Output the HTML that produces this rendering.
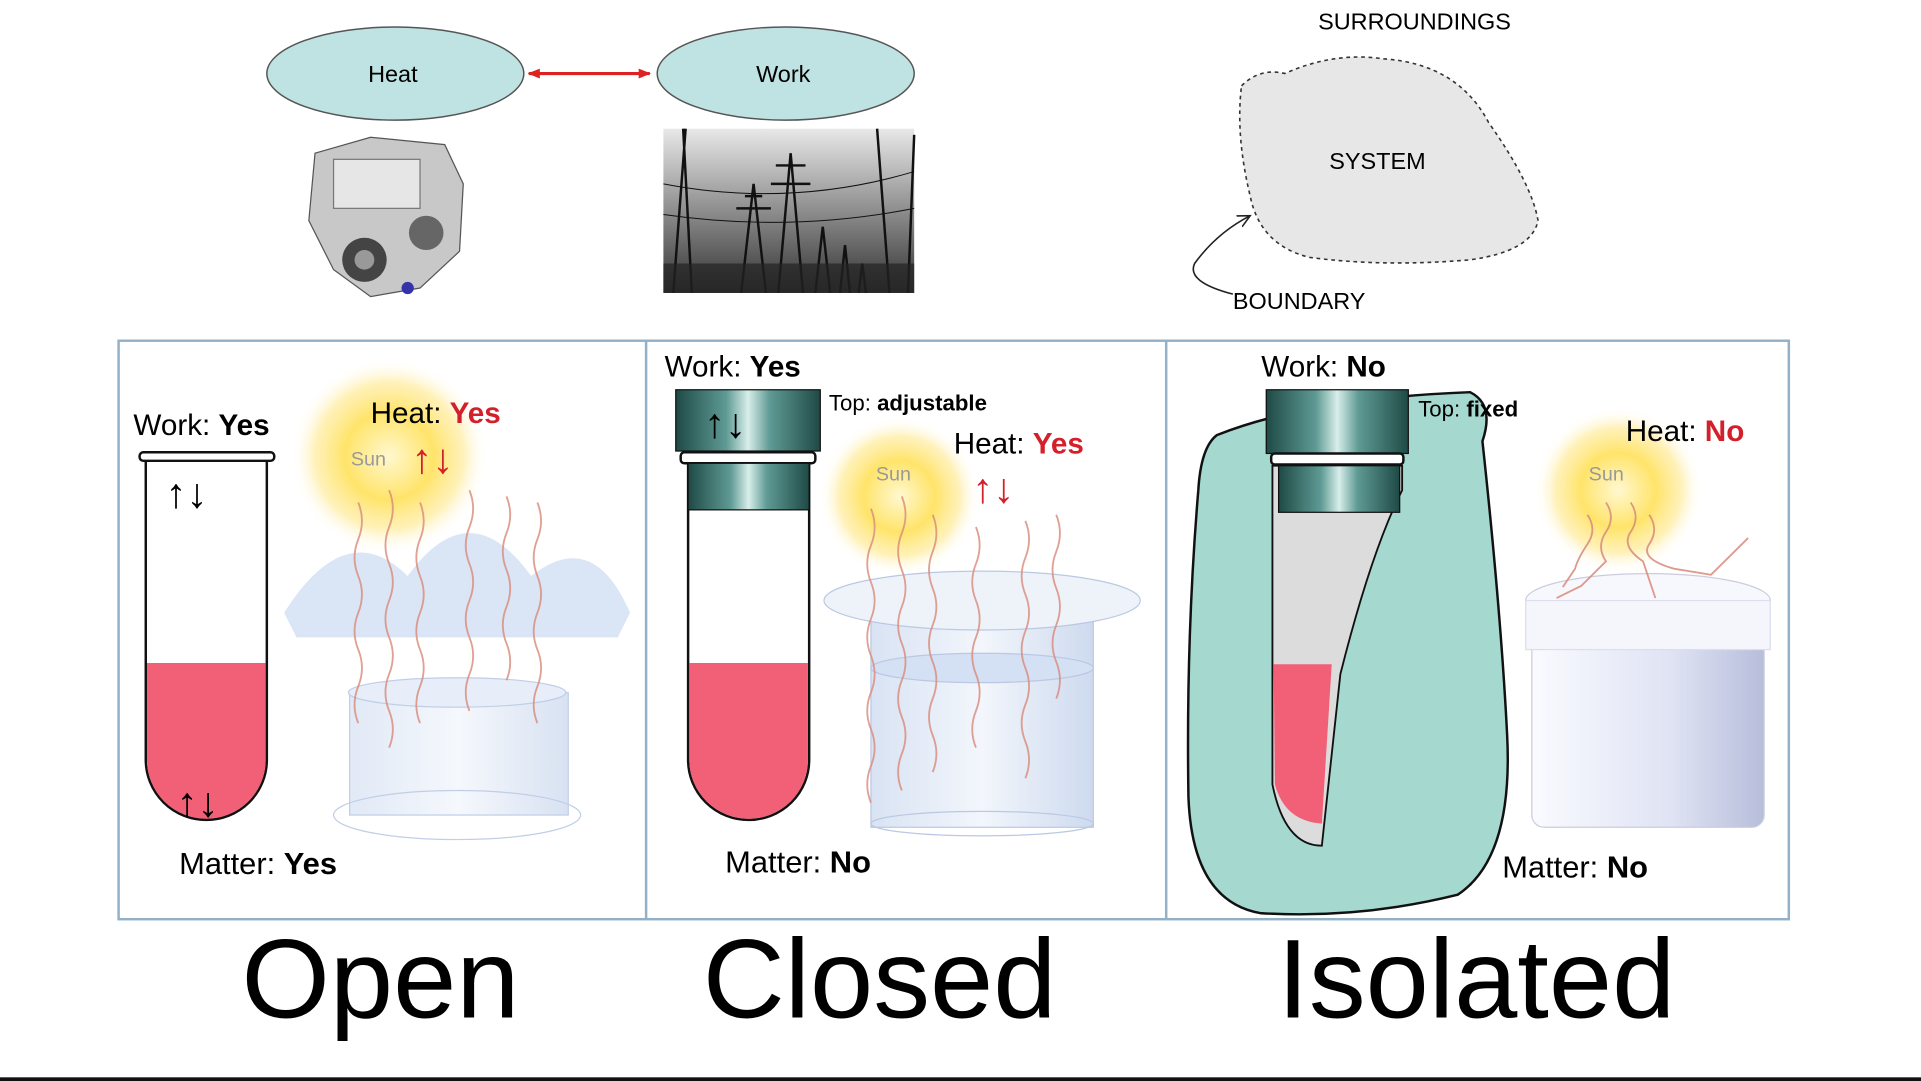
<!DOCTYPE html>
<html><head><meta charset="utf-8"><style>html,body{margin:0;padding:0;background:#fff;overflow:hidden}svg{display:block}</style></head>
<body>
<svg width="1921" height="1081" viewBox="0 0 1555 882" preserveAspectRatio="none" xmlns="http://www.w3.org/2000/svg" font-family="Liberation Sans, sans-serif">
<defs>
<radialGradient id="sun"><stop offset="0" stop-color="#fff8d0"/><stop offset="0.45" stop-color="#ffe46a"/><stop offset="0.75" stop-color="#ffe88a" stop-opacity="0.6"/><stop offset="1" stop-color="#fff" stop-opacity="0"/></radialGradient>
<linearGradient id="cap" x1="0" x2="1"><stop offset="0" stop-color="#1f4a46"/><stop offset="0.35" stop-color="#5f9a94"/><stop offset="0.5" stop-color="#d8eeea"/><stop offset="0.65" stop-color="#5f9a94"/><stop offset="1" stop-color="#1f4a46"/></linearGradient>
<linearGradient id="glass" x1="0" x2="1"><stop offset="0" stop-color="#c9d8ef"/><stop offset="0.5" stop-color="#eef3fb"/><stop offset="1" stop-color="#b9cbe8"/></linearGradient>
<linearGradient id="white" x1="0" x2="1"><stop offset="0" stop-color="#fafbff"/><stop offset="0.6" stop-color="#dfe3f3"/><stop offset="1" stop-color="#b7bedb"/></linearGradient>
<linearGradient id="pl" x1="0" y1="0" x2="0" y2="1"><stop offset="0" stop-color="#e8e8e8"/><stop offset="1" stop-color="#333"/></linearGradient>
<marker id="ar" markerUnits="userSpaceOnUse" markerWidth="10" markerHeight="8" refX="9" refY="4" orient="auto"><path d="M0,0 L10,4 L0,8 z" fill="#d22"/></marker>
<marker id="al" markerUnits="userSpaceOnUse" markerWidth="10" markerHeight="8" refX="1" refY="4" orient="auto"><path d="M10,0 L0,4 L10,8 z" fill="#d22"/></marker>
<marker id="ab" markerUnits="userSpaceOnUse" markerWidth="12" markerHeight="12" refX="10" refY="6" orient="auto"><path d="M0,1 L10,6 L0,11" fill="none" stroke="#222" stroke-width="1.3"/></marker>
</defs>
<rect width="1555" height="882" fill="#fff"/>
<ellipse cx="320" cy="60" rx="104" ry="38" fill="#bfe2e2" stroke="#555" stroke-width="1.2"/>
<ellipse cx="636" cy="60" rx="104" ry="38" fill="#bfe2e2" stroke="#555" stroke-width="1.2"/>
<text x="318" y="67" font-size="19" text-anchor="middle">Heat</text>
<text x="634" y="67" font-size="19" text-anchor="middle">Work</text>
<line x1="428" y1="60" x2="526" y2="60" stroke="#d22" stroke-width="2.5" marker-end="url(#ar)" marker-start="url(#al)"/>
<g>
<path d="M255,125 L300,112 L360,118 L375,150 L372,205 L340,235 L300,242 L270,220 L250,180 Z" fill="#c8c8c8" stroke="#555"/>
<rect x="270" y="130" width="70" height="40" fill="#e6e6e6" stroke="#777"/>
<circle cx="295" cy="212" r="18" fill="#444"/><circle cx="295" cy="212" r="8" fill="#999"/>
<circle cx="345" cy="190" r="14" fill="#666"/><circle cx="330" cy="235" r="5" fill="#33a"/>
</g>
<rect x="537" y="105" width="203" height="134" fill="url(#pl)"/>
<g stroke="#111" fill="none" stroke-width="2">
<path d="M545,239 L555,105 M560,239 L553,105"/><path d="M720,239 L710,105 M735,239 L740,110"/>
<path d="M600,239 L610,150 L620,239 M596,170 L624,170 M603,160 L617,160"/>
<path d="M630,239 L640,125 L650,239 M624,150 L656,150 M628,135 L652,135"/>
<path d="M660,239 L666,185 L672,239 M680,239 L684,200 L688,239 M695,239 L698,215 L701,239"/>
<path d="M537,150 Q640,170 740,140 M537,175 Q640,190 740,170" stroke-width="0.8"/>
</g>
<rect x="537" y="215" width="203" height="24" fill="#222" opacity="0.7"/>
<text x="1145" y="24" font-size="19" text-anchor="middle">SURROUNDINGS</text>
<path d="M1005,70 Q1020,55 1040,60 Q1080,42 1120,48 Q1180,52 1205,100 Q1240,150 1245,180 Q1240,205 1190,212 Q1120,218 1060,210 Q1020,200 1012,160 Q1000,110 1005,70 Z" fill="#e7e7e7" stroke="#333" stroke-width="1.3" stroke-dasharray="3,3"/>
<text x="1115" y="138" font-size="19" text-anchor="middle">SYSTEM</text>
<path d="M998,240 Q960,230 967,215 Q985,190 1012,176" fill="none" stroke="#222" stroke-width="1.3" marker-end="url(#ab)"/>
<text x="998" y="252" font-size="19">BOUNDARY</text>
<rect x="96" y="278" width="1352" height="472" fill="#fff" stroke="#92b0c8" stroke-width="2"/>
<line x1="523" y1="278" x2="523" y2="750" stroke="#92b0c8" stroke-width="2"/>
<line x1="944" y1="278" x2="944" y2="750" stroke="#92b0c8" stroke-width="2"/>
<circle cx="315" cy="372" r="80" fill="url(#sun)"/>
<text x="300" y="345" font-size="24">Heat: <tspan fill="#d4202a" font-weight="bold">Yes</tspan></text>
<text x="284" y="380" font-size="16" fill="#999">Sun</text>
<text x="333" y="386" font-size="34" fill="#d4202a">↑↓</text>
<g opacity="0.55"><path d="M230,500 Q280,420 330,470 Q380,400 430,470 Q480,430 510,500 L500,520 L240,520 Z" fill="#bcd0ec"/>
<rect x="283" y="565" width="177" height="100" fill="url(#glass)" stroke="#8ea7d4"/>
<ellipse cx="370" cy="565" rx="88" ry="12" fill="#d5e1f5" stroke="#8ea7d4"/>
<ellipse cx="370" cy="665" rx="100" ry="20" fill="none" stroke="#8ea7d4"/></g>
<g stroke="#d98a7a" stroke-width="1.5" fill="none" opacity="0.8">
<path d="M290,410 q6,15 0,30 t0,30 t0,30 t0,30 t0,30 t0,30"/><path d="M315,400 q6,15 0,30 t0,30 t0,30 t0,30 t0,30 t0,30 t0,30"/><path d="M340,410 q6,15 0,30 t0,30 t0,30 t0,30 t0,30 t0,30"/><path d="M380,400 q6,15 0,30 t0,30 t0,30 t0,30 t0,30 t0,30"/><path d="M410,405 q6,15 0,30 t0,30 t0,30 t0,30 t0,30"/><path d="M435,410 q6,15 0,30 t0,30 t0,30 t0,30 t0,30 t0,30"/></g>
<text x="108" y="355" font-size="24">Work: <tspan font-weight="bold">Yes</tspan></text>
<path d="M118,376 L118,620 A49,49 0 0 0 216,620 L216,376" fill="#fff" stroke="#111" stroke-width="2"/>
<path d="M119,541 L215,541 L215,620 A48,48 0 0 1 119,620 Z" fill="#f26078"/>
<rect x="113" y="369" width="109" height="7" rx="3" fill="#fff" stroke="#111" stroke-width="2"/>
<text x="134" y="414" font-size="34">↑↓</text>
<text x="143" y="666" font-size="34">↑↓</text>
<text x="145" y="713" font-size="25">Matter: <tspan font-weight="bold">Yes</tspan></text>
<circle cx="728" cy="405" r="65" fill="url(#sun)"/>
<text x="709" y="392" font-size="16" fill="#999">Sun</text>
<text x="772" y="370" font-size="24">Heat: <tspan fill="#d4202a" font-weight="bold">Yes</tspan></text>
<text x="787" y="410" font-size="34" fill="#d4202a">↑↓</text>
<g opacity="0.7"><rect x="705" y="490" width="180" height="185" fill="url(#glass)" stroke="#9fb2d8"/>
<ellipse cx="795" cy="490" rx="128" ry="24" fill="#e7eef9" stroke="#9fb2d8"/>
<ellipse cx="795" cy="545" rx="90" ry="12" fill="#c3d3ef" stroke="#9fb2d8"/>
<ellipse cx="795" cy="672" rx="90" ry="10" fill="none" stroke="#9fb2d8"/></g>
<g stroke="#d98a7a" stroke-width="1.5" fill="none" opacity="0.8">
<path d="M705,415 q6,15 0,30 t0,30 t0,30 t0,30 t0,30 t0,30 t0,30 t0,30"/><path d="M730,405 q6,15 0,30 t0,30 t0,30 t0,30 t0,30 t0,30 t0,30 t0,30"/><path d="M755,420 q6,15 0,30 t0,30 t0,30 t0,30 t0,30 t0,30 t0,30"/><path d="M790,430 q6,15 0,30 t0,30 t0,30 t0,30 t0,30 t0,30"/><path d="M830,425 q6,15 0,30 t0,30 t0,30 t0,30 t0,30 t0,30 t0,30"/><path d="M855,420 q6,15 0,30 t0,30 t0,30 t0,30 t0,30"/></g>
<text x="538" y="307" font-size="24">Work: <tspan font-weight="bold">Yes</tspan></text>
<rect x="547" y="318" width="117" height="50" fill="url(#cap)" stroke="#111"/>
<text x="570" y="357" font-size="34">↑↓</text>
<rect x="551" y="369" width="109" height="9" rx="3" fill="#fff" stroke="#111" stroke-width="2"/>
<path d="M557,378 L557,620 A49,49 0 0 0 655,620 L655,378" fill="#fff" stroke="#111" stroke-width="2"/>
<rect x="557" y="378" width="98" height="38" fill="url(#cap)" stroke="#111"/>
<path d="M558,541 L654,541 L654,620 A48,48 0 0 1 558,620 Z" fill="#f26078"/>
<text x="671" y="335" font-size="18">Top: <tspan font-weight="bold">adjustable</tspan></text>
<text x="587" y="712" font-size="25">Matter: <tspan font-weight="bold">No</tspan></text>
<path d="M985,355 Q1060,325 1190,320 Q1210,330 1200,360 Q1215,500 1220,600 Q1225,700 1180,730 Q1100,750 1020,745 Q965,735 962,650 Q960,520 970,400 Q972,365 985,355 Z" fill="#a5d8cf" stroke="#111" stroke-width="2"/>
<path d="M1030,380 L1030,640 Q1040,690 1070,690 L1085,550 Q1110,450 1135,400 L1135,380 Z" fill="#dcdcdc" stroke="#111" stroke-width="1.5"/>
<path d="M1031,542 L1078,542 L1070,672 Q1040,670 1032,640 Z" fill="#f26078"/>
<rect x="1025" y="318" width="115" height="52" fill="url(#cap)" stroke="#111"/>
<rect x="1029" y="370" width="107" height="9" rx="3" fill="#fff" stroke="#111" stroke-width="2"/>
<rect x="1035" y="380" width="98" height="38" fill="url(#cap)" stroke="#111"/>
<text x="1021" y="307" font-size="24">Work: <tspan font-weight="bold">No</tspan></text>
<text x="1148" y="340" font-size="18">Top: <tspan font-weight="bold">fixed</tspan></text>
<circle cx="1310" cy="400" r="68" fill="url(#sun)"/>
<text x="1286" y="392" font-size="16" fill="#999">Sun</text>
<text x="1316" y="360" font-size="24">Heat: <tspan fill="#d4202a" font-weight="bold">No</tspan></text>
<rect x="1240" y="495" width="188" height="180" rx="10" fill="url(#white)" stroke="#ccd"/>
<ellipse cx="1334" cy="490" rx="99" ry="22" fill="#f7f8fd" stroke="#ccd"/>
<rect x="1235" y="490" width="198" height="40" fill="#f5f6fc" stroke="#dde"/>
<g stroke="#d98a7a" stroke-width="1.5" fill="none" opacity="0.85">
<path d="M1300,410 q8,12 0,24 t0,24 l-20,20 l-20,10"/><path d="M1320,410 q8,12 0,24 t10,24 l10,30"/><path d="M1335,420 q8,12 0,24 t20,20 l30,5 l30,-30"/><path d="M1285,420 q8,12 0,24 t-10,20 l-10,15"/></g>
<text x="1216" y="716" font-size="25">Matter: <tspan font-weight="bold">No</tspan></text>
<text x="308" y="830" font-size="92" text-anchor="middle">Open</text>
<text x="712" y="830" font-size="92" text-anchor="middle">Closed</text>
<text x="1195" y="830" font-size="92" text-anchor="middle">Isolated</text>
<rect x="0" y="879" width="1555" height="3" fill="#111"/>
</svg>
</body></html>
